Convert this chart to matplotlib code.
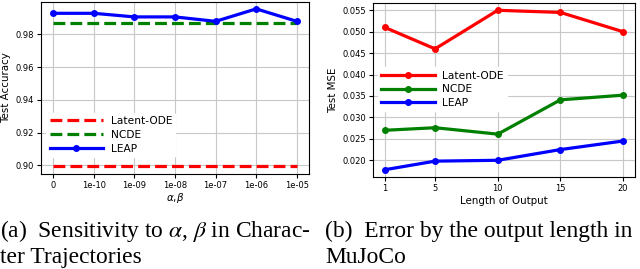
import matplotlib
matplotlib.use("Agg")
import matplotlib.pyplot as plt

# ---- data ----
ab_labels = ["0", "1e-10", "1e-09", "1e-08", "1e-07", "1e-06", "1e-05"]
leap_acc = [0.9928, 0.9928, 0.9906, 0.9906, 0.9879, 0.9955, 0.9879]
ncde_acc = 0.9871
latent_acc = 0.8994

out_len = [1, 5, 10, 15, 20]
latent_mse = [0.0510, 0.0460, 0.0550, 0.0545, 0.0500]
ncde_mse = [0.0270, 0.0276, 0.0261, 0.0341, 0.0352]
leap_mse = [0.0178, 0.0198, 0.0200, 0.0225, 0.0245]

fig = plt.figure(figsize=(6.4, 2.69), dpi=100)

tick_fs = 6
lab_fs = 7.4
leg_fs = 7.7
lw = 2.3

# ---- left panel ----
ax1 = fig.add_axes([41/640, 1-174/269, 268/640, 172/269])
xs = list(range(len(ab_labels)))
ax1.plot(xs, [latent_acc]*len(xs), color="red", ls="--", lw=lw, label="Latent-ODE")
ax1.plot(xs, [ncde_acc]*len(xs), color="green", ls="--", lw=lw, label="NCDE")
ax1.plot(xs, leap_acc, color="blue", lw=lw, marker="o", ms=4, label="LEAP")
ax1.set_xticks(xs)
ax1.set_xticklabels(ab_labels)
ax1.set_yticks([0.90, 0.92, 0.94, 0.96, 0.98])
ax1.set_ylim(0.8947, 0.9997)
ax1.grid(True, color="#c8c8c8", lw=0.8)
ax1.set_axisbelow(True)
ax1.tick_params(labelsize=tick_fs, length=3, pad=2)
ax1.set_ylabel("Test Accuracy", fontsize=lab_fs, labelpad=3)
ax1.set_xlabel(r"$\alpha$,$\beta$", fontsize=lab_fs, labelpad=1)
ax1.legend(loc="center left", bbox_to_anchor=(0.02, 0.227), fontsize=leg_fs,
           handlelength=5, handletextpad=0.7, labelspacing=0.35,
           frameon=True, edgecolor="white", framealpha=1.0, borderpad=0.3,
           borderaxespad=0.0)

# ---- right panel ----
ax2 = fig.add_axes([373/640, 1-177/269, 262/640, 174/269])
ax2.plot(out_len, latent_mse, color="red", lw=lw, marker="o", ms=4, label="Latent-ODE")
ax2.plot(out_len, ncde_mse, color="green", lw=lw, marker="o", ms=4, label="NCDE")
ax2.plot(out_len, leap_mse, color="blue", lw=lw, marker="o", ms=4, label="LEAP")
ax2.set_xticks(out_len)
ax2.set_yticks([0.020, 0.025, 0.030, 0.035, 0.040, 0.045, 0.050, 0.055])
ax2.set_ylim(0.0161, 0.0567)
ax2.grid(True, color="#c8c8c8", lw=0.8)
ax2.set_axisbelow(True)
ax2.tick_params(labelsize=tick_fs, length=3, pad=2)
ax2.set_ylabel("Test MSE", fontsize=lab_fs, labelpad=3)
ax2.set_xlabel("Length of Output", fontsize=lab_fs, labelpad=2)
ax2.legend(loc="center left", bbox_to_anchor=(0.02, 0.504), fontsize=leg_fs,
           handlelength=5, handletextpad=0.7, labelspacing=0.35,
           frameon=True, edgecolor="white", framealpha=1.0, borderpad=0.3,
           borderaxespad=0.0)

# ---- captions ----
cap_fs = 16.9
fig.text(0.0, 1-237/269, r"(a)  Sensitivity to $\alpha$, $\beta$ in Charac-",
         fontsize=cap_fs, family="Liberation Serif", math_fontfamily="stix",
         ha="left", va="baseline")
fig.text(0.0, 1-263/269, "ter Trajectories", fontsize=cap_fs,
         family="Liberation Serif", ha="left", va="baseline")
fig.text(325/640, 1-237/269, "(b)  Error by the output length in",
         fontsize=cap_fs, family="Liberation Serif", ha="left", va="baseline")
fig.text(325/640, 1-263/269, "MuJoCo", fontsize=cap_fs,
         family="Liberation Serif", ha="left", va="baseline")

fig.savefig("out.png", dpi=100)
